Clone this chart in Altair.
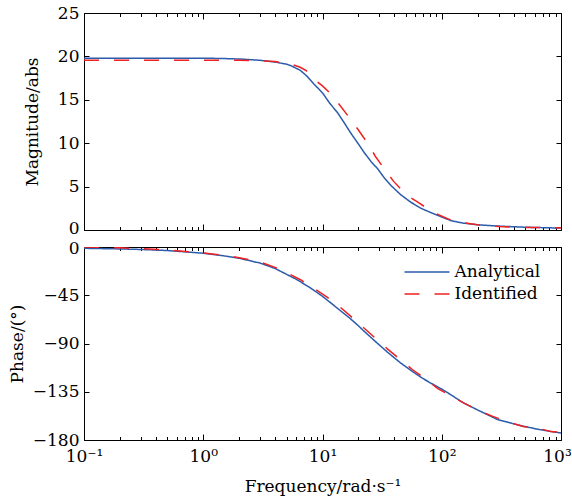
import json
import altair as alt
import pandas as pd

# Frequency response of the analytical model and the identified model
freq_mag_analytical = [0.1, 0.2, 0.5, 1.0, 1.5, 2.0, 3.0, 4.0, 5.0, 5.5, 6.5, 7.3, 8.5, 10, 11.5,
                       13.4, 15.3, 17.2, 19.8, 22.3, 25.5, 29.2, 33, 37.7, 45, 55, 67, 81, 100,
                       120, 150, 200, 300, 500, 700, 1000]
mag_analytical = [19.8, 19.8, 19.8, 19.8, 19.75, 19.7, 19.55, 19.35, 19.1, 18.9, 18.4, 17.8, 16.8,
                  15.8, 14.6, 13.5, 12.3, 11.2, 10.0, 8.95, 7.9, 7.0, 6.0, 5.1, 4.1, 3.2, 2.5, 2.0,
                  1.5, 1.07, 0.8, 0.6, 0.45, 0.32, 0.27, 0.22]

freq_mag_identified = [0.1, 0.5, 1.0, 2.0, 3.0, 4.0, 5.5, 6.5, 7.3, 8.8, 10, 11.3, 13.4, 16.7, 19.8,
                       24.2, 27.7, 34, 39.5, 50, 63, 84, 113, 150, 200, 300, 500, 1000]
mag_identified = [19.55, 19.55, 19.55, 19.55, 19.5, 19.4, 19.1, 18.75, 18.35, 17.2, 16.6, 15.9, 14.7,
                  13.0, 11.6, 9.9, 8.5, 6.8, 5.6, 4.1, 3.2, 2.07, 1.27, 0.85, 0.6, 0.4, 0.3, 0.25]

freq_phase_analytical = [0.1, 0.2, 0.3, 0.5, 1.0, 1.5, 2.0, 3.0, 4.0, 5.0, 6.0, 7.0, 8.0, 10, 12,
                         14, 17.2, 20, 22.3, 28, 35, 45, 55, 68, 81, 100, 120, 150, 200, 295, 435,
                         640, 820, 1000]
phase_analytical = [-1.2, -1.8, -2.3, -3.3, -5.8, -8.3, -10.5, -15, -20, -25.5, -30, -34.5, -38.5,
                    -46, -53, -59, -67, -73.5, -78.5, -88.5, -98, -108, -115, -122, -127, -132.5,
                    -138, -145, -152, -161, -166, -170, -172, -173.5]

freq_phase_identified = [0.1, 0.2, 0.3, 0.5, 1.0, 1.5, 2.0, 3.0, 4.0, 5.0, 6.6, 8.3, 11, 13.7, 17.2,
                         21.5, 28, 35, 45.6, 57, 73.5, 92, 123, 155, 215, 268, 380, 490, 640, 820,
                         1000]
phase_identified = [0, -0.8, -1.5, -2.8, -5.5, -7.8, -10, -14, -19, -24, -30.8, -38, -47, -55,
                    -64.5, -74, -85.5, -95, -105.5, -114.5, -123, -131.8, -139.6, -145.8, -153.6,
                    -158, -164, -167.6, -169, -172, -173]

series_names = ["Analytical", "Identified"]
series_colors = ["#2b5bab", "#ee2222"]
series_dashes = [[1, 0], [15, 15]]

x_decades = [0.1, 1, 10, 100, 1000]
x_decade_labels = ["10⁻¹", "10⁰", "10¹", "10²", "10³"]
x_minor = [m * d for d in [0.1, 1, 10, 100] for m in range(1, 10)] + [1000]
mag_ticks = [0, 5, 10, 15, 20, 25]
phase_ticks = [0, -45, -90, -135, -180]

FONT = "DejaVu Serif"
W = 477


def frame(freqs_a, vals_a, freqs_i, vals_i):
    a = pd.DataFrame({"freq": freqs_a, "value": vals_a, "series": series_names[0]})
    b = pd.DataFrame({"freq": freqs_i, "value": vals_i, "series": series_names[1]})
    return pd.concat([a, b], ignore_index=True)


df_mag = frame(freq_mag_analytical, mag_analytical, freq_mag_identified, mag_identified)
df_phase = frame(freq_phase_analytical, phase_analytical, freq_phase_identified, phase_identified)

decade_label_expr = (
    json.dumps(x_decade_labels, ensure_ascii=False) + "[round(log(datum.value)/LN10) + 1]"
)
is_decade = "abs(log(datum.value)/LN10 - round(log(datum.value)/LN10)) < 0.001"
x_tick_size = {"condition": {"test": is_decade, "value": 6}, "value": 3.5}
# keep the last decade label inside the page edge
x_label_offset = {"condition": {"test": "datum.value > 500", "value": -4}, "value": 0}


def panel(df, y_title, y_domain, y_ticks, H, bottom, title_pad, zero_shift, show_legend):
    x_scale = alt.Scale(type="log", domain=[0.1, 1000], nice=False)
    y_scale = alt.Scale(domain=y_domain, nice=False, zero=False)

    x_axis_kw = dict(values=x_decades, ticks=False, domain=False, grid=False)
    if bottom:
        x_axis_kw.update(labelExpr=decade_label_expr, labelPadding=8, titlePadding=14,
                         labelFlush=False, labelOffset=x_label_offset,
                         title="Frequency/rad·s⁻¹")
    else:
        x_axis_kw.update(labels=False, title=None)

    if show_legend:
        legend = alt.Legend(
            orient="none", legendX=322, legendY=16.5, title=None,
            symbolType="M-3,0H3", symbolSize=225, symbolStrokeWidth=1.5,
            symbolOffset=12.5, labelOffset=19, labelFont=FONT, labelFontSize=17,
            labelColor="black", rowPadding=4, padding=0,
        )
    else:
        legend = None

    lines = alt.Chart(df).mark_line(strokeWidth=1.5, clip=True).encode(
        x=alt.X("freq:Q", scale=x_scale, axis=alt.Axis(**x_axis_kw)),
        y=alt.Y("value:Q", scale=y_scale,
                axis=alt.Axis(values=y_ticks, ticks=False, domain=False, grid=False,
                              labelPadding=5, titlePadding=title_pad, title=y_title,
                              labelOffset={"condition": {"test": "datum.value == 0",
                                                         "value": zero_shift},
                                           "value": 0})),
        color=alt.Color("series:N", scale=alt.Scale(domain=series_names, range=series_colors),
                        legend=legend),
        strokeDash=alt.StrokeDash("series:N",
                                  scale=alt.Scale(domain=series_names, range=series_dashes),
                                  legend=legend),
    )

    # inward ticks along the lower and left edges
    ticks_in_low = alt.Chart(df).mark_point(opacity=0).encode(
        x=alt.X("freq:Q", scale=x_scale,
                axis=alt.Axis(orient="top", offset=-H, values=x_minor, labels=False,
                              domain=False, grid=False, tickSize=x_tick_size, title=None)),
        y=alt.Y("value:Q", scale=y_scale,
                axis=alt.Axis(orient="right", offset=-W, values=y_ticks, labels=False,
                              domain=False, grid=False, tickSize=5, title=None)),
    )
    # inward ticks along the upper and right edges
    ticks_in_high = alt.Chart(df).mark_point(opacity=0).encode(
        x=alt.X("freq:Q", scale=x_scale,
                axis=alt.Axis(orient="bottom", offset=-H, values=x_minor, labels=False,
                              domain=False, grid=False, tickSize=x_tick_size, title=None)),
        y=alt.Y("value:Q", scale=y_scale,
                axis=alt.Axis(orient="left", offset=-W, values=y_ticks, labels=False,
                              domain=False, grid=False, tickSize=5, title=None)),
    )

    return (
        alt.layer(lines, ticks_in_low, ticks_in_high)
        .resolve_axis(x="independent", y="independent")
        .properties(width=W, height=H)
    )


top = panel(df_mag, "Magnitude/abs", [0, 25], mag_ticks, 217, False, 16, -1.5, False)
bottom = panel(df_phase, "Phase/(°)", [-180, 0], phase_ticks, 193, True, 6, 1.5, True)

chart = (
    alt.vconcat(top, bottom, spacing=17, bounds="flush")
    .resolve_legend(color="independent", strokeDash="independent")
    .properties(padding={"left": 7, "top": 3, "right": 0, "bottom": 5})
    .configure_view(stroke="black", strokeWidth=1)
    .configure_axis(labelFont=FONT, titleFont=FONT, labelFontSize=17, titleFontSize=17,
                    labelColor="black", titleColor="black", titleFontWeight="normal",
                    tickColor="black", tickWidth=1)
)

chart.save("out.html", embed_options={"renderer": "svg", "actions": False})
